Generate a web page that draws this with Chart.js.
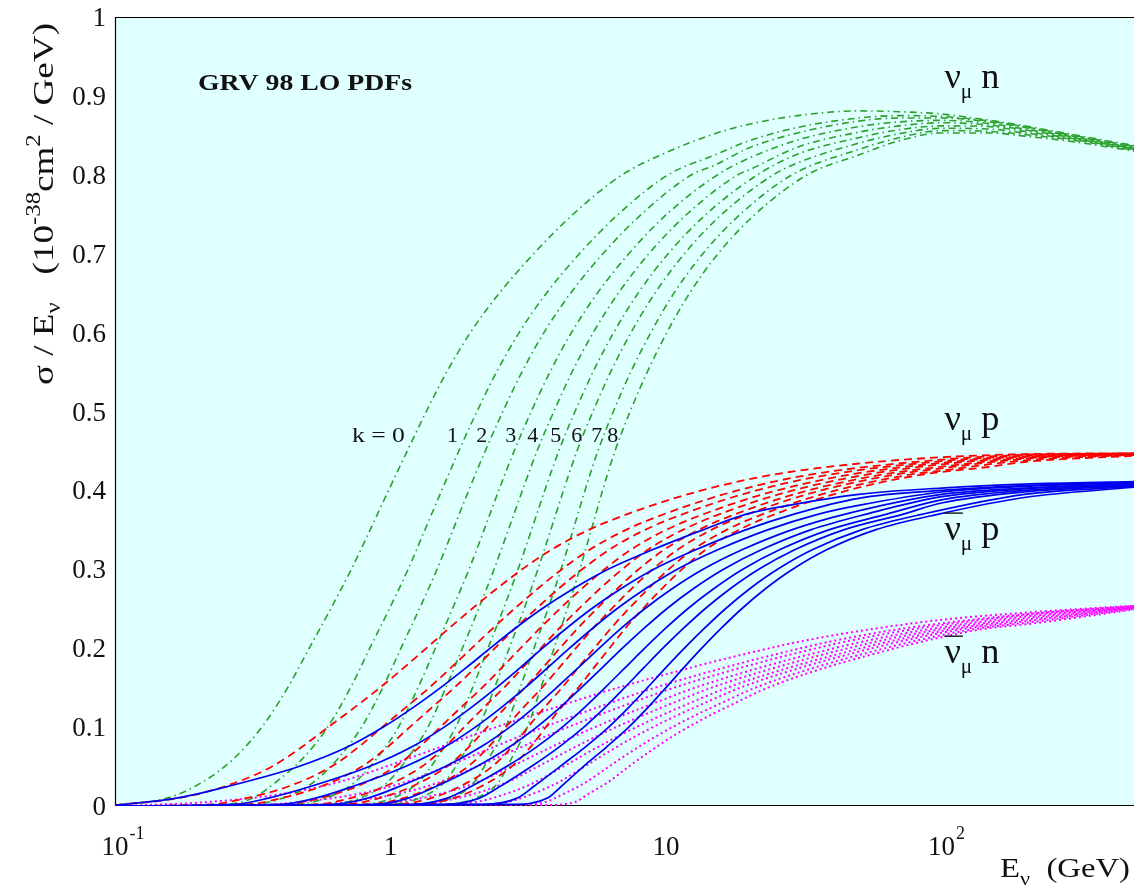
<!DOCTYPE html>
<html>
<head>
<meta charset="utf-8">
<script src="https://cdn.jsdelivr.net/npm/chart.js@4/dist/chart.umd.min.js"></script>
<style>
html,body{margin:0;padding:0;background:#ffffff;}
#wrap{width:1134px;height:890px;position:relative;}
</style>
</head>
<body>
<div id="wrap"><canvas id="c" width="1134" height="890"></canvas></div>
<script>
// ---------------- axis ticks ----------------
const xTickValues = [0.1, 1, 10, 100];
const xTickBase   = ['10', '1', '10', '10'];
const xTickExp    = ['-1', '', '', '2'];
const yTickValues = [0, 0.1, 0.2, 0.3, 0.4, 0.5, 0.6, 0.7, 0.8, 0.9, 1];
const yTickLabels = ['0', '0.1', '0.2', '0.3', '0.4', '0.5', '0.6', '0.7', '0.8', '0.9', '1'];

const kValues = [0, 1, 2, 3, 4, 5, 6, 7, 8];

// Rising part of each curve: energy (as log10 of E in GeV) read where the curve crosses each sigma/E level.
// ---------------- nu_mu n (green, dash-dot) ----------------
const nuN_levels = [0.01, 0.03, 0.06, 0.10, 0.15, 0.20, 0.25, 0.30, 0.35, 0.40, 0.45, 0.50, 0.55, 0.60, 0.65, 0.70, 0.75, 0.80];
const nuN_levelLogE = [
  [-0.81, -0.684, -0.569, -0.467, -0.373, -0.295, -0.217, -0.142, -0.074, -0.007, 0.061, 0.13, 0.204, 0.29, 0.395, 0.52, 0.663, 0.841],
  [-0.50, -0.417, -0.319, -0.228, -0.145, -0.075, -0.004, 0.064, 0.125, 0.186, 0.248, 0.314, 0.385, 0.467, 0.566, 0.686, 0.827, 1.008],
  [-0.39, -0.28, -0.191, -0.105, -0.028, 0.038, 0.105, 0.169, 0.227, 0.284, 0.344, 0.408, 0.477, 0.557, 0.654, 0.771, 0.911, 1.093],
  [-0.233, -0.13, -0.05, 0.029, 0.10, 0.163, 0.225, 0.285, 0.34, 0.393, 0.449, 0.511, 0.579, 0.657, 0.751, 0.865, 1.003, 1.187],
  [-0.11, -0.011, 0.061, 0.136, 0.201, 0.261, 0.32, 0.376, 0.428, 0.479, 0.532, 0.593, 0.659, 0.736, 0.827, 0.938, 1.076, 1.261],
  [0.008, 0.101, 0.167, 0.237, 0.298, 0.354, 0.41, 0.463, 0.512, 0.56, 0.611, 0.67, 0.735, 0.81, 0.899, 1.008, 1.146, 1.332],
  [0.105, 0.195, 0.255, 0.321, 0.378, 0.431, 0.485, 0.535, 0.582, 0.628, 0.677, 0.735, 0.799, 0.873, 0.96, 1.067, 1.203, 1.39],
  [0.218, 0.304, 0.356, 0.418, 0.471, 0.521, 0.572, 0.619, 0.663, 0.706, 0.753, 0.809, 0.872, 0.945, 1.029, 1.134, 1.27, 1.458],
  [0.31, 0.392, 0.439, 0.497, 0.546, 0.594, 0.642, 0.687, 0.729, 0.77, 0.815, 0.87, 0.932, 1.003, 1.086, 1.189, 1.324, 1.513]
];
const nuN_head = [
  [[0.1, 0.001]],
  [[0.1, 0], [0.25, 0.002]],
  [[0.1, 0], [0.31, 0.002]],
  [[0.1, 0], [0.44, 0.002]],
  [[0.1, 0], [0.58, 0.002]],
  [[0.1, 0], [0.77, 0.002]],
  [[0.1, 0], [0.95, 0.002]],
  [[0.1, 0], [1.25, 0.002]],
  [[0.1, 0], [1.53, 0.002]]
];
const nuN_tail = [
  [[10, 0.828], [15, 0.852], [20, 0.864], [30, 0.875], [50, 0.881], [70, 0.880], [100, 0.877], [150, 0.869], [200, 0.862], [300, 0.851], [500, 0.837]],
  [[15, 0.825], [20, 0.843], [30, 0.860], [50, 0.872], [70, 0.875], [100, 0.874], [150, 0.868], [200, 0.861], [300, 0.850], [500, 0.836]],
  [[15, 0.812], [20, 0.834], [30, 0.853], [50, 0.868], [70, 0.872], [100, 0.872], [150, 0.867], [200, 0.860], [300, 0.849], [500, 0.835]],
  [[20, 0.821], [30, 0.844], [50, 0.861], [70, 0.867], [100, 0.869], [150, 0.865], [200, 0.858], [300, 0.848], [500, 0.834]],
  [[20, 0.806], [30, 0.835], [50, 0.854], [70, 0.862], [100, 0.866], [150, 0.863], [200, 0.857], [300, 0.847], [500, 0.833]],
  [[30, 0.826], [50, 0.847], [70, 0.857], [100, 0.862], [150, 0.861], [200, 0.855], [300, 0.846], [500, 0.833]],
  [[30, 0.815], [50, 0.840], [70, 0.852], [100, 0.859], [150, 0.858], [200, 0.853], [300, 0.845], [500, 0.832]],
  [[50, 0.832], [70, 0.847], [100, 0.856], [150, 0.855], [200, 0.851], [300, 0.844], [500, 0.831]],
  [[50, 0.825], [70, 0.843], [100, 0.853], [150, 0.853], [200, 0.849], [300, 0.842], [500, 0.830]]
];

// ---------------- nu_mu p (red, dashed) ----------------
const nuP_levels = [0.01, 0.025, 0.05, 0.075, 0.1, 0.125, 0.15, 0.175, 0.2, 0.225, 0.25, 0.275, 0.3, 0.325, 0.35, 0.375, 0.4, 0.42];
const nuP_levelLogE = [
  [-0.77, -0.60, -0.43, -0.321, -0.226, -0.13, -0.038, 0.048, 0.13, 0.212, 0.296, 0.384, 0.478, 0.585, 0.72, 0.90, 1.13, 1.39],
  [-0.522, -0.369, -0.214, -0.115, -0.03, 0.056, 0.141, 0.219, 0.295, 0.371, 0.45, 0.533, 0.622, 0.724, 0.855, 1.033, 1.261, 1.524],
  [-0.395, -0.251, -0.104, -0.01, 0.07, 0.151, 0.232, 0.307, 0.379, 0.452, 0.529, 0.609, 0.696, 0.795, 0.924, 1.101, 1.329, 1.593],
  [-0.255, -0.121, 0.018, 0.106, 0.181, 0.256, 0.333, 0.403, 0.472, 0.542, 0.615, 0.693, 0.777, 0.873, 1.001, 1.176, 1.403, 1.668],
  [-0.145, -0.019, 0.114, 0.198, 0.268, 0.339, 0.412, 0.479, 0.546, 0.612, 0.684, 0.759, 0.841, 0.935, 1.061, 1.234, 1.461, 1.728],
  [-0.04, 0.079, 0.205, 0.285, 0.351, 0.418, 0.488, 0.552, 0.615, 0.679, 0.749, 0.822, 0.901, 0.994, 1.118, 1.291, 1.517, 1.784],
  [0.047, 0.16, 0.281, 0.357, 0.419, 0.483, 0.55, 0.612, 0.673, 0.735, 0.803, 0.874, 0.952, 1.043, 1.165, 1.337, 1.563, 1.831],
  [0.148, 0.254, 0.369, 0.441, 0.499, 0.559, 0.623, 0.681, 0.74, 0.80, 0.865, 0.935, 1.01, 1.099, 1.22, 1.391, 1.617, 1.886],
  [0.23, 0.33, 0.44, 0.509, 0.564, 0.62, 0.682, 0.738, 0.795, 0.852, 0.916, 0.984, 1.058, 1.145, 1.265, 1.435, 1.66, 1.93]
];
const nuP_head = [
  [[0.1, 0.001]],
  [[0.1, 0], [0.22, 0.002]],
  [[0.1, 0], [0.30, 0.002]],
  [[0.1, 0], [0.41, 0.002]],
  [[0.1, 0], [0.53, 0.002]],
  [[0.1, 0], [0.68, 0.002]],
  [[0.1, 0], [0.83, 0.002]],
  [[0.1, 0], [1.04, 0.002]],
  [[0.1, 0], [1.26, 0.002]]
];
const nuP_tail = [
  [[50, 0.434], [100, 0.442], [200, 0.446], [500, 0.447]],
  [[100, 0.439], [200, 0.445], [500, 0.447]],
  [[100, 0.437], [200, 0.444], [500, 0.447]],
  [[100, 0.435], [200, 0.443], [500, 0.446]],
  [[100, 0.433], [200, 0.442], [500, 0.446]],
  [[100, 0.430], [200, 0.441], [500, 0.446]],
  [[100, 0.428], [200, 0.440], [500, 0.445]],
  [[100, 0.425], [200, 0.438], [500, 0.445]],
  [[150, 0.430], [200, 0.436], [500, 0.444]]
];

// ---------------- anti-nu_mu p (blue, solid) ----------------
const antiNuP_levels = [0.01, 0.025, 0.05, 0.075, 0.1, 0.125, 0.15, 0.175, 0.2, 0.225, 0.25, 0.275, 0.3, 0.325, 0.35, 0.37];
const antiNuP_levelLogE = [
  [-0.777, -0.588, -0.333, -0.155, -0.026, 0.083, 0.182, 0.274, 0.362, 0.452, 0.55, 0.662, 0.79, 0.953, 1.134, 1.292],
  [-0.443, -0.288, -0.077, 0.078, 0.195, 0.294, 0.385, 0.47, 0.552, 0.638, 0.73, 0.835, 0.956, 1.11, 1.289, 1.465],
  [-0.272, -0.135, 0.054, 0.198, 0.308, 0.403, 0.489, 0.57, 0.65, 0.733, 0.822, 0.924, 1.041, 1.19, 1.369, 1.554],
  [-0.083, 0.034, 0.199, 0.329, 0.433, 0.522, 0.603, 0.681, 0.758, 0.837, 0.923, 1.021, 1.135, 1.278, 1.456, 1.651],
  [0.065, 0.167, 0.313, 0.433, 0.531, 0.616, 0.693, 0.768, 0.842, 0.92, 1.003, 1.098, 1.209, 1.348, 1.525, 1.728],
  [0.206, 0.294, 0.421, 0.531, 0.624, 0.705, 0.779, 0.851, 0.923, 0.998, 1.079, 1.172, 1.279, 1.414, 1.591, 1.802],
  [0.323, 0.399, 0.511, 0.613, 0.702, 0.779, 0.85, 0.919, 0.989, 1.063, 1.142, 1.232, 1.337, 1.469, 1.645, 1.862],
  [0.46, 0.521, 0.615, 0.708, 0.792, 0.865, 0.933, 0.999, 1.067, 1.139, 1.216, 1.303, 1.405, 1.533, 1.709, 1.933],
  [0.57, 0.62, 0.70, 0.785, 0.865, 0.935, 1.0, 1.064, 1.13, 1.2, 1.275, 1.36, 1.46, 1.585, 1.76, 1.99]
];
const antiNuP_head = [
  [[0.1, 0.001]],
  [[0.1, 0], [0.27, 0.002]],
  [[0.1, 0], [0.40, 0.002]],
  [[0.1, 0], [0.62, 0.002]],
  [[0.1, 0], [0.87, 0.002]],
  [[0.1, 0], [1.2, 0.002]],
  [[0.1, 0], [1.58, 0.002]],
  [[0.1, 0], [2.16, 0.002]],
  [[0.1, 0], [2.8, 0.002]]
];
const antiNuP_tail = [
  [[30, 0.383], [50, 0.395], [100, 0.403], [200, 0.408], [500, 0.411]],
  [[50, 0.390], [100, 0.400], [200, 0.406], [500, 0.410]],
  [[50, 0.381], [100, 0.398], [200, 0.405], [500, 0.410]],
  [[100, 0.395], [200, 0.403], [500, 0.409]],
  [[100, 0.392], [200, 0.402], [500, 0.408]],
  [[100, 0.388], [200, 0.400], [500, 0.407]],
  [[100, 0.384], [200, 0.398], [500, 0.406]],
  [[200, 0.395], [500, 0.405]],
  [[200, 0.391], [500, 0.404]]
];

// ---------------- anti-nu_mu n (magenta, dotted) ----------------
const antiNuN_levels = [0.005, 0.015, 0.03, 0.05, 0.07, 0.09, 0.11, 0.13, 0.15, 0.17, 0.19, 0.21, 0.225];
const antiNuN_levelLogE = [
  [-0.664, -0.398, -0.191, -0.016, 0.143, 0.301, 0.468, 0.642, 0.826, 1.033, 1.255, 1.509, 1.763],
  [-0.333, -0.121, 0.052, 0.202, 0.342, 0.482, 0.633, 0.792, 0.961, 1.156, 1.372, 1.618, 1.863],
  [-0.164, 0.02, 0.177, 0.314, 0.444, 0.575, 0.717, 0.869, 1.03, 1.219, 1.431, 1.674, 1.914],
  [0.023, 0.176, 0.314, 0.438, 0.556, 0.677, 0.81, 0.954, 1.106, 1.289, 1.497, 1.736, 1.97],
  [0.17, 0.299, 0.422, 0.535, 0.644, 0.758, 0.884, 1.021, 1.166, 1.344, 1.549, 1.785, 2.014],
  [0.31, 0.416, 0.524, 0.627, 0.728, 0.835, 0.953, 1.084, 1.223, 1.396, 1.598, 1.831, 2.056],
  [0.426, 0.513, 0.61, 0.704, 0.798, 0.898, 1.011, 1.137, 1.27, 1.439, 1.639, 1.869, 2.091],
  [0.561, 0.626, 0.709, 0.793, 0.879, 0.972, 1.078, 1.198, 1.325, 1.489, 1.686, 1.914, 2.132],
  [0.67, 0.717, 0.789, 0.865, 0.945, 1.032, 1.133, 1.248, 1.37, 1.53, 1.725, 1.95, 2.165]
];
const antiNuN_head = [
  [[0.1, 0], [0.15, 0.002]],
  [[0.1, 0], [0.33, 0.001]],
  [[0.1, 0], [0.5, 0.001]],
  [[0.1, 0], [0.77, 0.001]],
  [[0.1, 0], [1.1, 0.001]],
  [[0.1, 0], [1.5, 0.001]],
  [[0.1, 0], [2.0, 0.001]],
  [[0.1, 0], [2.7, 0.001]],
  [[0.1, 0], [3.5, 0.001]]
];
const antiNuN_tail = [
  [[100, 0.236], [200, 0.245], [500, 0.254]],
  [[200, 0.243], [500, 0.2535]],
  [[200, 0.242], [500, 0.253]],
  [[200, 0.240], [500, 0.252]],
  [[200, 0.238], [500, 0.252]],
  [[200, 0.236], [500, 0.251]],
  [[200, 0.234], [500, 0.251]],
  [[200, 0.232], [500, 0.250]],
  [[200, 0.230], [500, 0.249]]
];

// ---------------- annotation anchors (data coordinates) ----------------
const kLabelText = ['1', '2', '3', '4', '5', '6', '7', '8'];
const kLabelE    = [1.681, 2.143, 2.732, 3.284, 3.981, 4.747, 5.61, 6.41];
const kLabelV    = 0.461;
const kZeroE     = 0.904;
const familyLabelE = 102.5;
const familyLabelV = [0.91, 0.4766, 0.337, 0.181];
const familyLabelTarget = ['n', 'p', 'p', 'n'];
const familyLabelAnti = [false, false, true, true];

// ---------------- build datasets ----------------
function buildCurve(head, levels, levelLogE, tail) {
  const pts = [];
  head.forEach(p => pts.push({x: p[0], y: p[1]}));
  levels.forEach((v, i) => pts.push({x: Math.pow(10, levelLogE[i]), y: v}));
  tail.forEach(p => pts.push({x: p[0], y: p[1]}));
  return pts;
}
const families = [
  {name: 'anti-nu_mu n', levels: antiNuN_levels, L: antiNuN_levelLogE, head: antiNuN_head, tail: antiNuN_tail,
   color: '#ff00ff', dash: [2, 3], width: 2, order: 3},
  {name: 'nu_mu n', levels: nuN_levels, L: nuN_levelLogE, head: nuN_head, tail: nuN_tail,
   color: '#2ca02c', dash: [7, 4, 1.5, 4], width: 1.6, order: 2},
  {name: 'nu_mu p', levels: nuP_levels, L: nuP_levelLogE, head: nuP_head, tail: nuP_tail,
   color: '#ff0000', dash: [8, 5], width: 1.8, order: 1},
  {name: 'anti-nu_mu p', levels: antiNuP_levels, L: antiNuP_levelLogE, head: antiNuP_head, tail: antiNuP_tail,
   color: '#0000ee', dash: [], width: 1.7, order: 0}
];
const datasets = [];
families.forEach(f => {
  kValues.forEach(k => {
    datasets.push({
      label: f.name + ' k=' + k,
      data: buildCurve(f.head[k], f.levels, f.L[k], f.tail[k]),
      borderColor: f.color,
      borderWidth: f.width,
      borderDash: f.dash,
      pointRadius: 0,
      fill: false,
      cubicInterpolationMode: 'monotone',
      order: f.order
    });
  });
});

// ---------------- text helpers ----------------
const FONT = '"Liberation Serif", "DejaVu Serif", serif';
function richText(ctx, parts, x, y, o) {
  o = o || {};
  const widths = parts.map(p => {
    ctx.font = (p.bold ? 'bold ' : '') + p.size + 'px ' + FONT;
    return ctx.measureText(p.t).width;
  });
  const W = widths.reduce((a, b) => a + b, 0);
  const sx = o.width ? o.width / W : 1;
  ctx.save();
  ctx.translate(x, y);
  if (o.rotate) ctx.rotate(o.rotate);
  const x0 = o.align === 'center' ? -W * sx / 2 : (o.align === 'right' ? -W * sx : 0);
  ctx.translate(x0, 0);
  ctx.scale(sx, 1);
  ctx.fillStyle = o.color || '#111';
  ctx.textAlign = 'left';
  ctx.textBaseline = 'alphabetic';
  let cx = 0;
  const pos = [];
  parts.forEach((p, i) => {
    ctx.font = (p.bold ? 'bold ' : '') + p.size + 'px ' + FONT;
    ctx.fillText(p.t, cx, p.dy || 0);
    pos.push([x + x0 + cx * sx, widths[i] * sx]);
    cx += widths[i];
  });
  ctx.restore();
  return pos;
}

const framePlugin = {
  id: 'frame',
  beforeDraw(chart) {
    const {ctx, chartArea: a} = chart;
    ctx.save();
    ctx.fillStyle = '#ffffff';
    ctx.fillRect(0, 0, chart.width, chart.height);
    ctx.fillStyle = '#e0ffff';
    ctx.fillRect(a.left, a.top, a.right - a.left, a.bottom - a.top);
    ctx.restore();
  },
  beforeDatasetsDraw(chart) {
    const {ctx, chartArea: a} = chart;
    ctx.save();
    ctx.strokeStyle = '#000';
    ctx.lineWidth = 1.2;
    ctx.beginPath();
    ctx.moveTo(a.right, a.top + 0.5);
    ctx.lineTo(a.left + 0.5, a.top + 0.5);
    ctx.lineTo(a.left + 0.5, a.bottom - 0.5);
    ctx.lineTo(a.right, a.bottom - 0.5);
    ctx.stroke();
    ctx.restore();
  },
  afterDraw(chart) {
    const {ctx, chartArea: a} = chart;
    const xs = chart.scales.x, ys = chart.scales.y;
    ctx.save();
    ctx.fillStyle = '#111';
    ctx.font = '27px ' + FONT;
    ctx.textAlign = 'right';
    ctx.textBaseline = 'alphabetic';
    yTickValues.forEach((v, i) => {
      ctx.fillText(yTickLabels[i], a.left - 9, ys.getPixelForValue(v) + 9);
    });
    xTickValues.forEach((v, i) => {
      const px = xs.getPixelForValue(v);
      ctx.font = '27px ' + FONT;
      ctx.textAlign = 'left';
      const w = ctx.measureText(xTickBase[i]).width;
      ctx.fillText(xTickBase[i], px - w / 2, a.bottom + 49);
      if (xTickExp[i]) {
        ctx.font = '18px ' + FONT;
        ctx.fillText(xTickExp[i], px + w / 2 + 1, a.bottom + 33);
      }
    });
    ctx.restore();

    richText(ctx, [
      {t: 'E', size: 28}, {t: '\u03bd', size: 19, dy: 8}, {t: '  (GeV)', size: 28}
    ], a.right - 134, a.bottom + 71, {width: 130});
    richText(ctx, [
      {t: '\u03c3 / E', size: 30}, {t: '\u03bd', size: 20, dy: 7}, {t: '   (10', size: 30},
      {t: '-38', size: 20, dy: -13}, {t: 'cm', size: 30}, {t: '2', size: 20, dy: -13},
      {t: ' / GeV)', size: 30}
    ], a.left - 62, a.top + 368, {rotate: -Math.PI / 2, width: 362});

    richText(ctx, [{t: 'GRV 98 LO PDFs', size: 24, bold: true}],
      xs.getPixelForValue(0.2), ys.getPixelForValue(0.9075), {width: 214});

    richText(ctx, [{t: 'k = 0', size: 22}], xs.getPixelForValue(kZeroE), ys.getPixelForValue(kLabelV),
      {align: 'center', width: 53});
    kLabelText.forEach((t, i) => {
      richText(ctx, [{t: t, size: 22}], xs.getPixelForValue(kLabelE[i]), ys.getPixelForValue(kLabelV), {align: 'center'});
    });

    familyLabelV.forEach((v, i) => {
      const px = xs.getPixelForValue(familyLabelE), py = ys.getPixelForValue(v);
      const pos = richText(ctx, [
        {t: '\u03bd', size: 36}, {t: '\u03bc', size: 21, dy: 10}, {t: ' ' + familyLabelTarget[i], size: 36}
      ], px, py, {width: 55});
      if (familyLabelAnti[i]) {
        ctx.save();
        ctx.strokeStyle = '#111';
        ctx.lineWidth = 1.4;
        ctx.beginPath();
        ctx.moveTo(pos[0][0], py - 27);
        ctx.lineTo(pos[0][0] + pos[0][1] + 2, py - 27);
        ctx.stroke();
        ctx.restore();
      }
    });
  }
};

new Chart(document.getElementById('c'), {
  type: 'line',
  data: {datasets: datasets},
  options: {
    responsive: false,
    animation: false,
    devicePixelRatio: 1,
    layout: {padding: {top: 17, right: 0, left: 0, bottom: 0}},
    plugins: {legend: {display: false}, tooltip: {enabled: false}},
    elements: {line: {borderCapStyle: 'butt'}},
    scales: {
      x: {
        type: 'logarithmic', min: 0.1, max: 500,
        grid: {display: false}, border: {display: false},
        ticks: {display: false},
        afterFit: s => { s.height = 84; }
      },
      y: {
        type: 'linear', min: 0, max: 1,
        grid: {display: false}, border: {display: false},
        ticks: {display: false},
        afterFit: s => { s.width = 115; }
      }
    }
  },
  plugins: [framePlugin]
});
</script>
</body>
</html>
